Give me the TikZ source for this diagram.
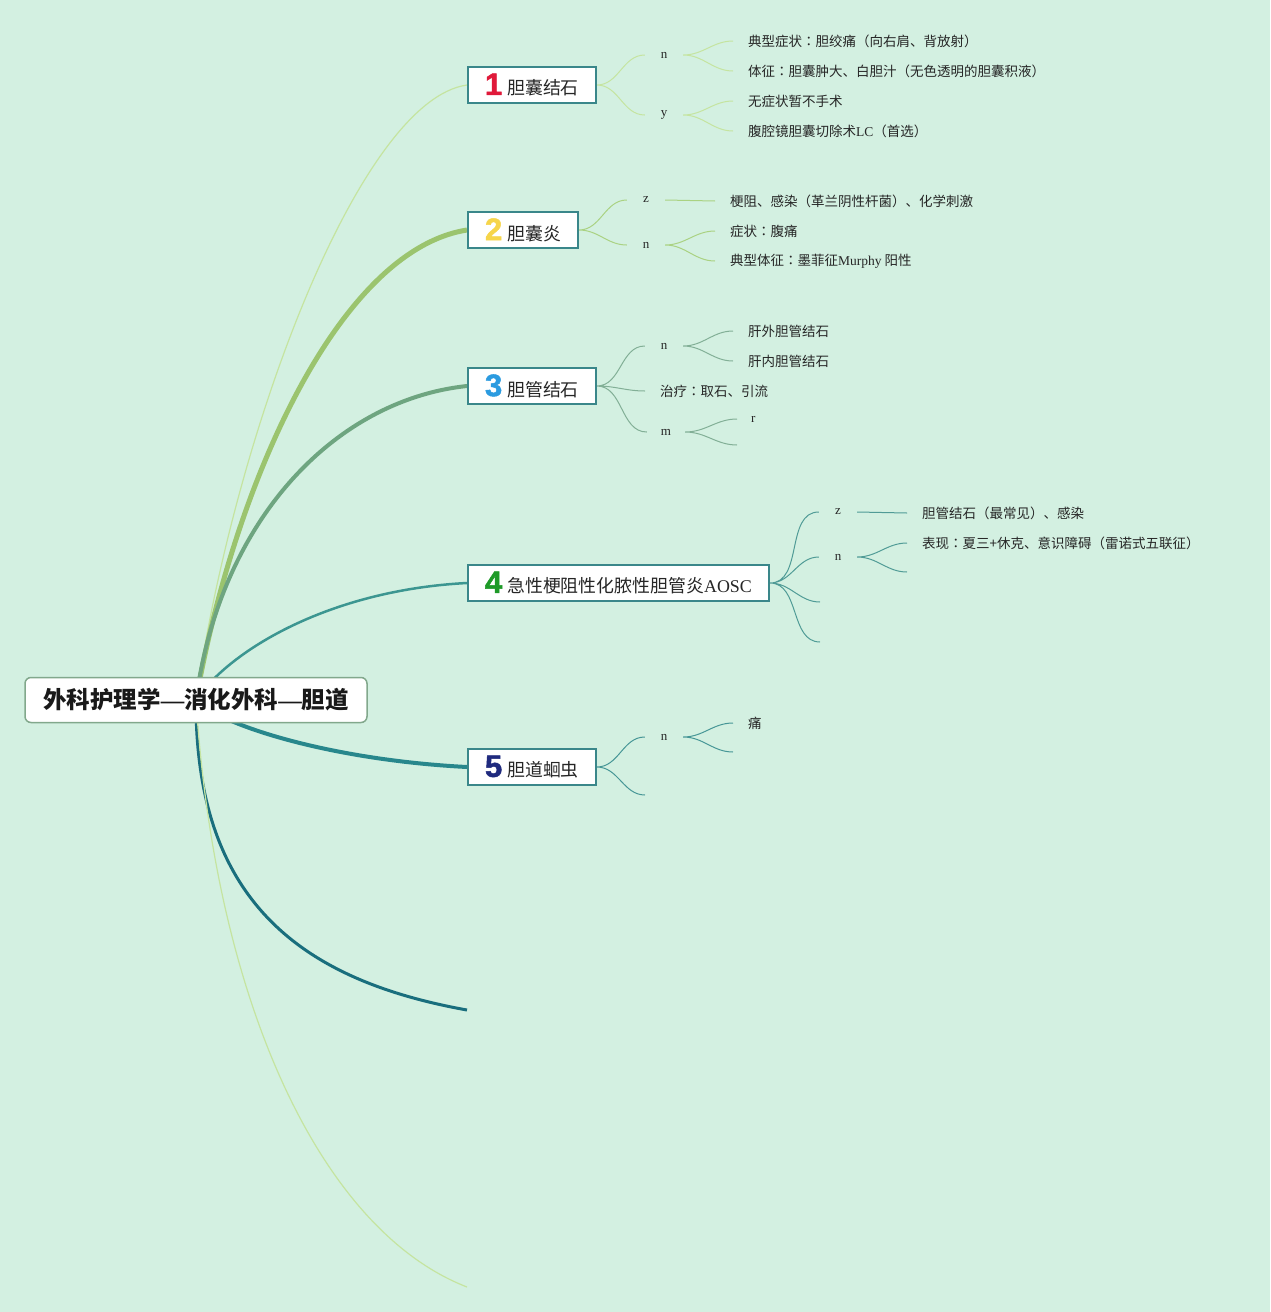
\documentclass[tikz,border=0pt]{standalone}
\usepackage{fontspec}
\setmainfont{Noto Sans CJK SC}
\newfontfamily\lat{Liberation Serif}
\newfontfamily\numfont{Liberation Sans}[BoldFeatures={FakeBold=1.6}]
\newfontfamily\tcfont{Noto Sans CJK TC}
\usetikzlibrary{backgrounds}
\definecolor{bg}{RGB}{211,240,225}
\definecolor{boxline}{RGB}{58,135,138}
\definecolor{rootline}{RGB}{130,168,140}
\definecolor{bra}{RGB}{197,228,160}
\definecolor{brb}{RGB}{155,196,110}
\definecolor{brc}{RGB}{110,165,128}
\definecolor{brd}{RGB}{60,150,145}
\definecolor{bre}{RGB}{40,135,140}
\definecolor{brf}{RGB}{25,110,125}
\definecolor{subb}{RGB}{170,210,130}
\definecolor{subc}{RGB}{130,175,150}
\definecolor{subd}{RGB}{80,155,150}
\definecolor{sube}{RGB}{70,150,150}
\definecolor{numa}{RGB}{224,25,58}
\definecolor{numb}{RGB}{246,213,74}
\definecolor{numc}{RGB}{43,155,224}
\definecolor{numd}{RGB}{30,154,40}
\definecolor{nume}{RGB}{31,42,126}
\newcommand\topicnum[2]{{\numfont\bfseries\fontsize{31}{31}\selectfont\color{#1}#2}\hspace{5pt}}
\newcommand\zhcolon{{\tcfont ：}}
\tikzset{
  rootbox/.style={draw=rootline,line width=1.5pt,rounded corners=6pt,fill=white,
    minimum width=342pt,minimum height=45pt,inner sep=0pt,text=black!90,
    font=\bfseries\fontsize{23.5}{28}\selectfont},
  topic/.style={anchor=west,draw=boxline,line width=2pt,fill=white,minimum height=36pt,
    inner xsep=17pt,inner ysep=0pt,text=black!85,font=\fontsize{17.9}{20}\selectfont},
  tag/.style={minimum width=38pt,minimum height=16pt,inner sep=0pt,text=black!85,
    font=\lat\fontsize{13}{15}\selectfont},
  leaf/.style={anchor=west,inner xsep=15pt,inner ysep=2pt,text=black!85,
    font=\fontsize{13.5}{16}\selectfont},
  sub/.style={line width=1pt,out=0,in=180}
}
\begin{document}
\begin{tikzpicture}[x=1pt,y=-1pt]
  \useasboundingbox (0,0) rectangle (1270,1312);
  \begin{scope}[on background layer]
    \fill[bg] (0,0) rectangle (1270,1312);
  \end{scope}

  \node[rootbox] (root) at (196,700) {外科护理学{\lat —}消化外科{\lat —}胆道};

  \node[topic] (t1) at (467,85) {\topicnum{numa}{1}胆囊结石};
  \node[topic] (t2) at (467,230) {\topicnum{numb}{2}胆囊炎};
  \node[topic] (t3) at (467,386) {\topicnum{numc}{3}胆管结石};
  \node[topic] (t4) at (467,583) {\topicnum{numd}{4}急性梗阻性化脓性胆管炎{\lat AOSC}};
  \node[topic] (t5) at (467,767) {\topicnum{nume}{5}胆道蛔虫};
  \coordinate (c6) at (467,1010);
  \coordinate (c7) at (467,1287);

  % 1
  \node[tag] (t1n) at (664,55) {n};
  \node[tag] (t1y) at (664,115) {y};
  \node[leaf] (l1a) at (733,41) {典型症状\zhcolon 胆绞痛（向右肩、背放射）};
  \node[leaf] (l1b) at (733,71) {体征\zhcolon 胆囊肿大、白胆汁（无色透明的胆囊积液）};
  \node[leaf] (l1c) at (733,101) {无症状暂不手术};
  \node[leaf] (l1d) at (733,131) {腹腔镜胆囊切除术{\lat LC}（首选）};
  % 2
  \node[tag] (t2z) at (646,200) {z};
  \node[tag] (t2n) at (646,245) {n};
  \node[leaf] (l2a) at (715,201) {梗阻、感染（革兰阴性杆菌）、化学刺激};
  \node[leaf] (l2b) at (715,231) {症状\zhcolon 腹痛};
  \node[leaf] (l2c) at (715,261) {典型体征\zhcolon 墨菲征{\lat Murphy} 阳性};
  % 3
  \node[tag] (t3n) at (664,346) {n};
  \node[tag] (t3m) at (666,432) {m};
  \node[leaf] (l3a) at (733,331) {肝外胆管结石};
  \node[leaf] (l3b) at (733,361) {肝内胆管结石};
  \node[leaf] (l3c) at (645,391) {治疗\zhcolon 取石、引流};
  \node[leaf,font=\lat\fontsize{13}{15}\selectfont,inner xsep=14pt] (l3r) at (737,419) {r};
  \coordinate (c3m) at (737,445);
  % 4
  \node[tag] (t4z) at (838,512) {z};
  \node[tag] (t4n) at (838,557) {n};
  \coordinate (c4a) at (820,602);
  \coordinate (c4b) at (820,642);
  \node[leaf] (l4a) at (907,513) {胆管结石（最常见）、感染};
  \node[leaf] (l4b) at (907,543) {表现\zhcolon 夏三+休克、意识障碍（雷诺式五联征）};
  \coordinate (c4n) at (907,572);
  % 5
  \node[tag] (t5n) at (664,737) {n};
  \coordinate (c5) at (645,795);
  \node[leaf] (l5a) at (733,723) {痛};
  \coordinate (c5n) at (733,752);

  \begin{scope}[on background layer]
    \draw[bra,line width=1.2pt] (root.center) .. controls (235,430) and (360,100) .. (t1.west);
    \draw[brb,line width=5pt] (root.center) .. controls (235,480) and (340,250) .. (t2.west);
    \draw[brc,line width=4pt] (root.center) .. controls (220,520) and (335,400) .. (t3.west);
    \draw[brd,line width=2.5pt] (root.center) .. controls (230,650) and (330,590) .. (t4.west);
    \draw[bre,line width=4pt] (root.center) .. controls (220,725) and (330,760) .. (t5.west);
    \draw[brf,line width=3pt] (root.center) .. controls (195,900) and (300,980) .. (c6);
    \draw[bra,line width=1.2pt] (root.center) .. controls (215,1000) and (320,1230) .. (c7);

    \draw[bra,sub] (t1.east) to (t1n.west) (t1.east) to (t1y.west);
    \draw[bra,sub] (t1n.east) to (l1a.west) (t1n.east) to (l1b.west);
    \draw[bra,sub] (t1y.east) to (l1c.west) (t1y.east) to (l1d.west);

    \draw[subb,sub] (t2.east) to (t2z.west) (t2.east) to (t2n.west);
    \draw[subb,line width=1pt] (t2z.east) -- (l2a.west);
    \draw[subb,sub] (t2n.east) to (l2b.west) (t2n.east) to (l2c.west);

    \draw[subc,sub] (t3.east) to (t3n.west) (t3.east) to (l3c.west) (t3.east) to (t3m.west);
    \draw[subc,sub] (t3n.east) to (l3a.west) (t3n.east) to (l3b.west);
    \draw[subc,sub] (t3m.east) to (l3r.west) (t3m.east) to (c3m);

    \draw[subd,sub] (t4.east) to (t4z.west) (t4.east) to (t4n.west)
      (t4.east) to (c4a) (t4.east) to (c4b);
    \draw[subd,line width=1pt] (t4z.east) -- (l4a.west);
    \draw[subd,sub] (t4n.east) to (l4b.west) (t4n.east) to (c4n);

    \draw[sube,sub] (t5.east) to (t5n.west) (t5.east) to (c5);
    \draw[sube,sub] (t5n.east) to (l5a.west) (t5n.east) to (c5n);
  \end{scope}
\end{tikzpicture}
\end{document}
